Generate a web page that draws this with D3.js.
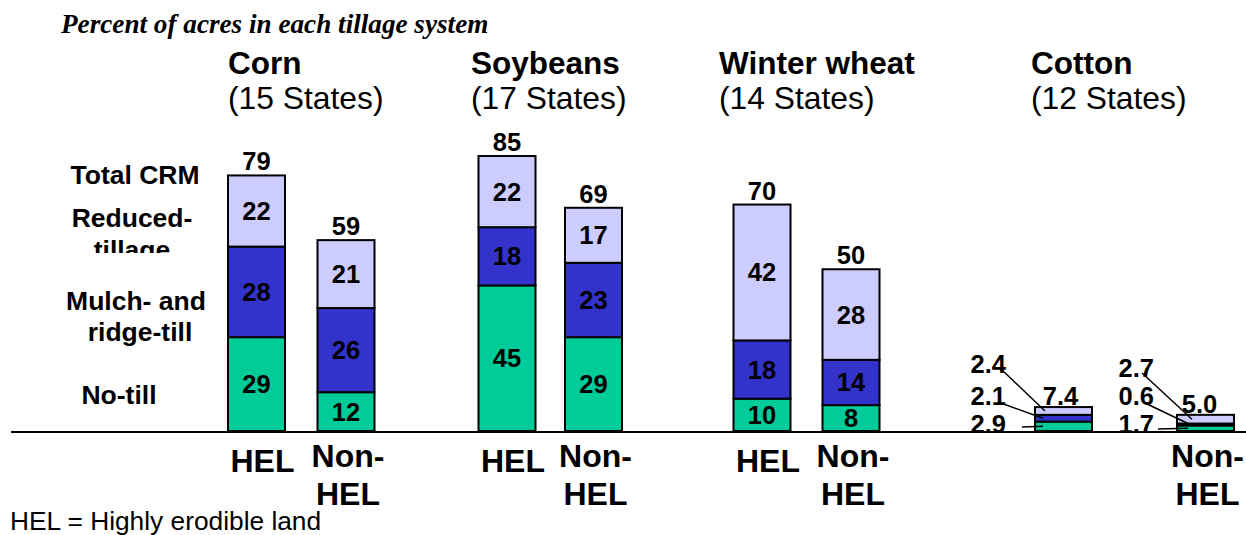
<!DOCTYPE html>
<html><head><meta charset="utf-8">
<script src="https://cdn.jsdelivr.net/npm/d3@7"></script>
<style>body{margin:0;background:#fff;overflow:hidden} svg{display:block}</style>
</head><body><svg id="c" width="1246" height="535"></svg>
<script>
// ---- data ----
const title = "Percent of acres in each tillage system";
const crops = ["Corn","Soybeans","Winter wheat","Cotton"];
const cropStates = ["(15 States)","(17 States)","(14 States)","(12 States)"];
const landTypes = ["HEL","Non-HEL"];
const systems = ["noTill","mulchRidge","reducedTill"];
const noTill      = [29,12,45,29,10,8,2.9,1.7];
const mulchRidge  = [28,26,18,23,18,14,2.1,0.6];
const reducedTill = [22,21,22,17,42,28,2.4,2.7];
const totalCRM    = [79,59,85,69,70,50,7.4,5.0];
const xTickLabels = {"HEL":["HEL"],"Non-HEL":["Non-","HEL"]};
const footnote = "HEL = Highly erodible land";
const calloutCrop = "Cotton";

// ---- layout ----
const W = 1246, H = 535;
const baseY = 431;
const colors = {noTill:"#00CC99", mulchRidge:"#3333CC", reducedTill:"#CCCCFF"};
const barW = 57;
const rows = [];
crops.forEach((c,i)=>landTypes.forEach((l,j)=>{
  const k = i*2+j;
  rows.push({key:c+"|"+l, crop:c, land:l, noTill:noTill[k], mulchRidge:mulchRidge[k], reducedTill:reducedTill[k], total:totalCRM[k]});
}));
const x = d3.scaleOrdinal().domain(rows.map(r=>r.key))
  .range([256.5,346,507,593.5,762,851,1063.5,1205.5]);
const titleX = d3.scaleOrdinal().domain(crops).range([228,471,719,1031]);
const y = d3.scaleLinear().domain([0,100]).range([baseY, baseY-323.5]);

const svg = d3.select("#c");
const F = "'Liberation Sans', Arial, sans-serif";

svg.append("text").attr("x",61).attr("y",33)
  .attr("font-family","'Liberation Serif','Times New Roman',serif")
  .attr("font-style","italic").attr("font-weight","bold").attr("font-size",27.2)
  .text(title);

// crop titles
crops.forEach((c,i)=>{
  svg.append("text").attr("x",titleX(c)).attr("y",74).attr("font-family",F)
    .attr("font-weight","bold").attr("font-size",31.5).text(c);
  svg.append("text").attr("x",titleX(c)).attr("y",109).attr("font-family",F)
    .attr("font-size",31.8).text(cropStates[i]);
});

// left labels
const defs = svg.append("defs");
defs.append("clipPath").attr("id","clipT").append("rect").attr("x",0).attr("y",0).attr("width",230).attr("height",253);
const leftLab = [
  {t:"Total CRM", x:135, y:184},
  {t:"Reduced-", x:132, y:227},
  {t:"tillage", x:132, y:259, clip:true},
  {t:"Mulch- and", x:136, y:310},
  {t:"ridge-till", x:140, y:341},
  {t:"No-till", x:119, y:404}
];
leftLab.forEach(d=>{
  const t = svg.append("text").attr("x",d.x).attr("y",d.y).attr("text-anchor","middle")
    .attr("font-family",F).attr("font-weight","bold").attr("font-size",26.5).text(d.t);
  if(d.clip) t.attr("clip-path","url(#clipT)");
});

// stacked bars
const stack = d3.stack().keys(systems)(rows);
const g = svg.append("g");
stack.forEach(s=>{
  g.selectAll(null).data(s).enter().append("rect")
    .attr("x",d=>x(d.data.key)-barW/2).attr("width",barW)
    .attr("y",d=>y(d[1])).attr("height",d=>y(d[0])-y(d[1]))
    .attr("fill",colors[s.key]).attr("stroke","#000").attr("stroke-width",2);
  g.selectAll(null).data(s.filter(d=>d.data.crop!==calloutCrop)).enter().append("text")
    .attr("x",d=>x(d.data.key)).attr("y",d=>(y(d[0])+y(d[1]))/2+9)
    .attr("text-anchor","middle").attr("font-family",F).attr("font-weight","bold").attr("font-size",25.5)
    .text(d=>d.data[s.key]);
});

// totals
svg.selectAll(null).data(rows).enter().append("text")
  .attr("x",d=>x(d.key)+(d.crop===calloutCrop?(d.land==="HEL"?-3:-6):0))
  .attr("y",d=>y(d.total)-(d.crop===calloutCrop?2:5))
  .attr("text-anchor","middle").attr("font-family",F).attr("font-weight","bold").attr("font-size",25.5)
  .text(d=>d.crop===calloutCrop?d3.format(".1f")(d.total):d.total);

// callouts for small bars
const callLayout = {
  "HEL":     {tx:1006, ty:{reducedTill:373, mulchRidge:405, noTill:433},
              sx:{reducedTill:1002, mulchRidge:998, noTill:1022}, sy:{reducedTill:370, mulchRidge:402, noTill:427}, ex:{reducedTill:1045,mulchRidge:1043,noTill:1043}},
  "Non-HEL": {tx:1154, ty:{reducedTill:377, mulchRidge:405, noTill:433},
              sx:{reducedTill:1142, mulchRidge:1145, noTill:1158}, sy:{reducedTill:373, mulchRidge:403, noTill:429}, ex:{reducedTill:1192,mulchRidge:1190,noTill:1188}}
};
stack.forEach(s=>{
  s.filter(d=>d.data.crop===calloutCrop).forEach(d=>{
    const L = callLayout[d.data.land];
    const my = (y(d[0])+y(d[1]))/2;
    svg.append("line").attr("x1",L.sx[s.key]).attr("y1",L.sy[s.key]).attr("x2",L.ex[s.key]).attr("y2",my)
      .attr("stroke","#000").attr("stroke-width",1.5);
    svg.append("text").attr("x",L.tx).attr("y",L.ty[s.key]).attr("text-anchor","end")
      .attr("font-family",F).attr("font-weight","bold").attr("font-size",25.5)
      .text(d3.format(".1f")(d.data[s.key]));
  });
});

// baseline
svg.append("line").attr("x1",11).attr("x2",W).attr("y1",baseY+1).attr("y2",baseY+1)
  .attr("stroke","#000").attr("stroke-width",2);

// x tick labels (cotton HEL label absent in original)
rows.filter(r=>!(r.crop===calloutCrop && r.land==="HEL")).forEach(r=>{
  const lines = xTickLabels[r.land];
  const off = r.land==="HEL" ? 6 : 2;
  lines.forEach((t,i)=>{
    svg.append("text").attr("x",x(r.key)+off)
      .attr("y", lines.length===1 ? 472 : 467+i*38)
      .attr("text-anchor","middle").attr("font-family",F).attr("font-weight","bold").attr("font-size",32).text(t);
  });
});

svg.append("text").attr("x",10).attr("y",530).attr("font-family",F).attr("font-size",26.3).text(footnote);
</script></body></html>
